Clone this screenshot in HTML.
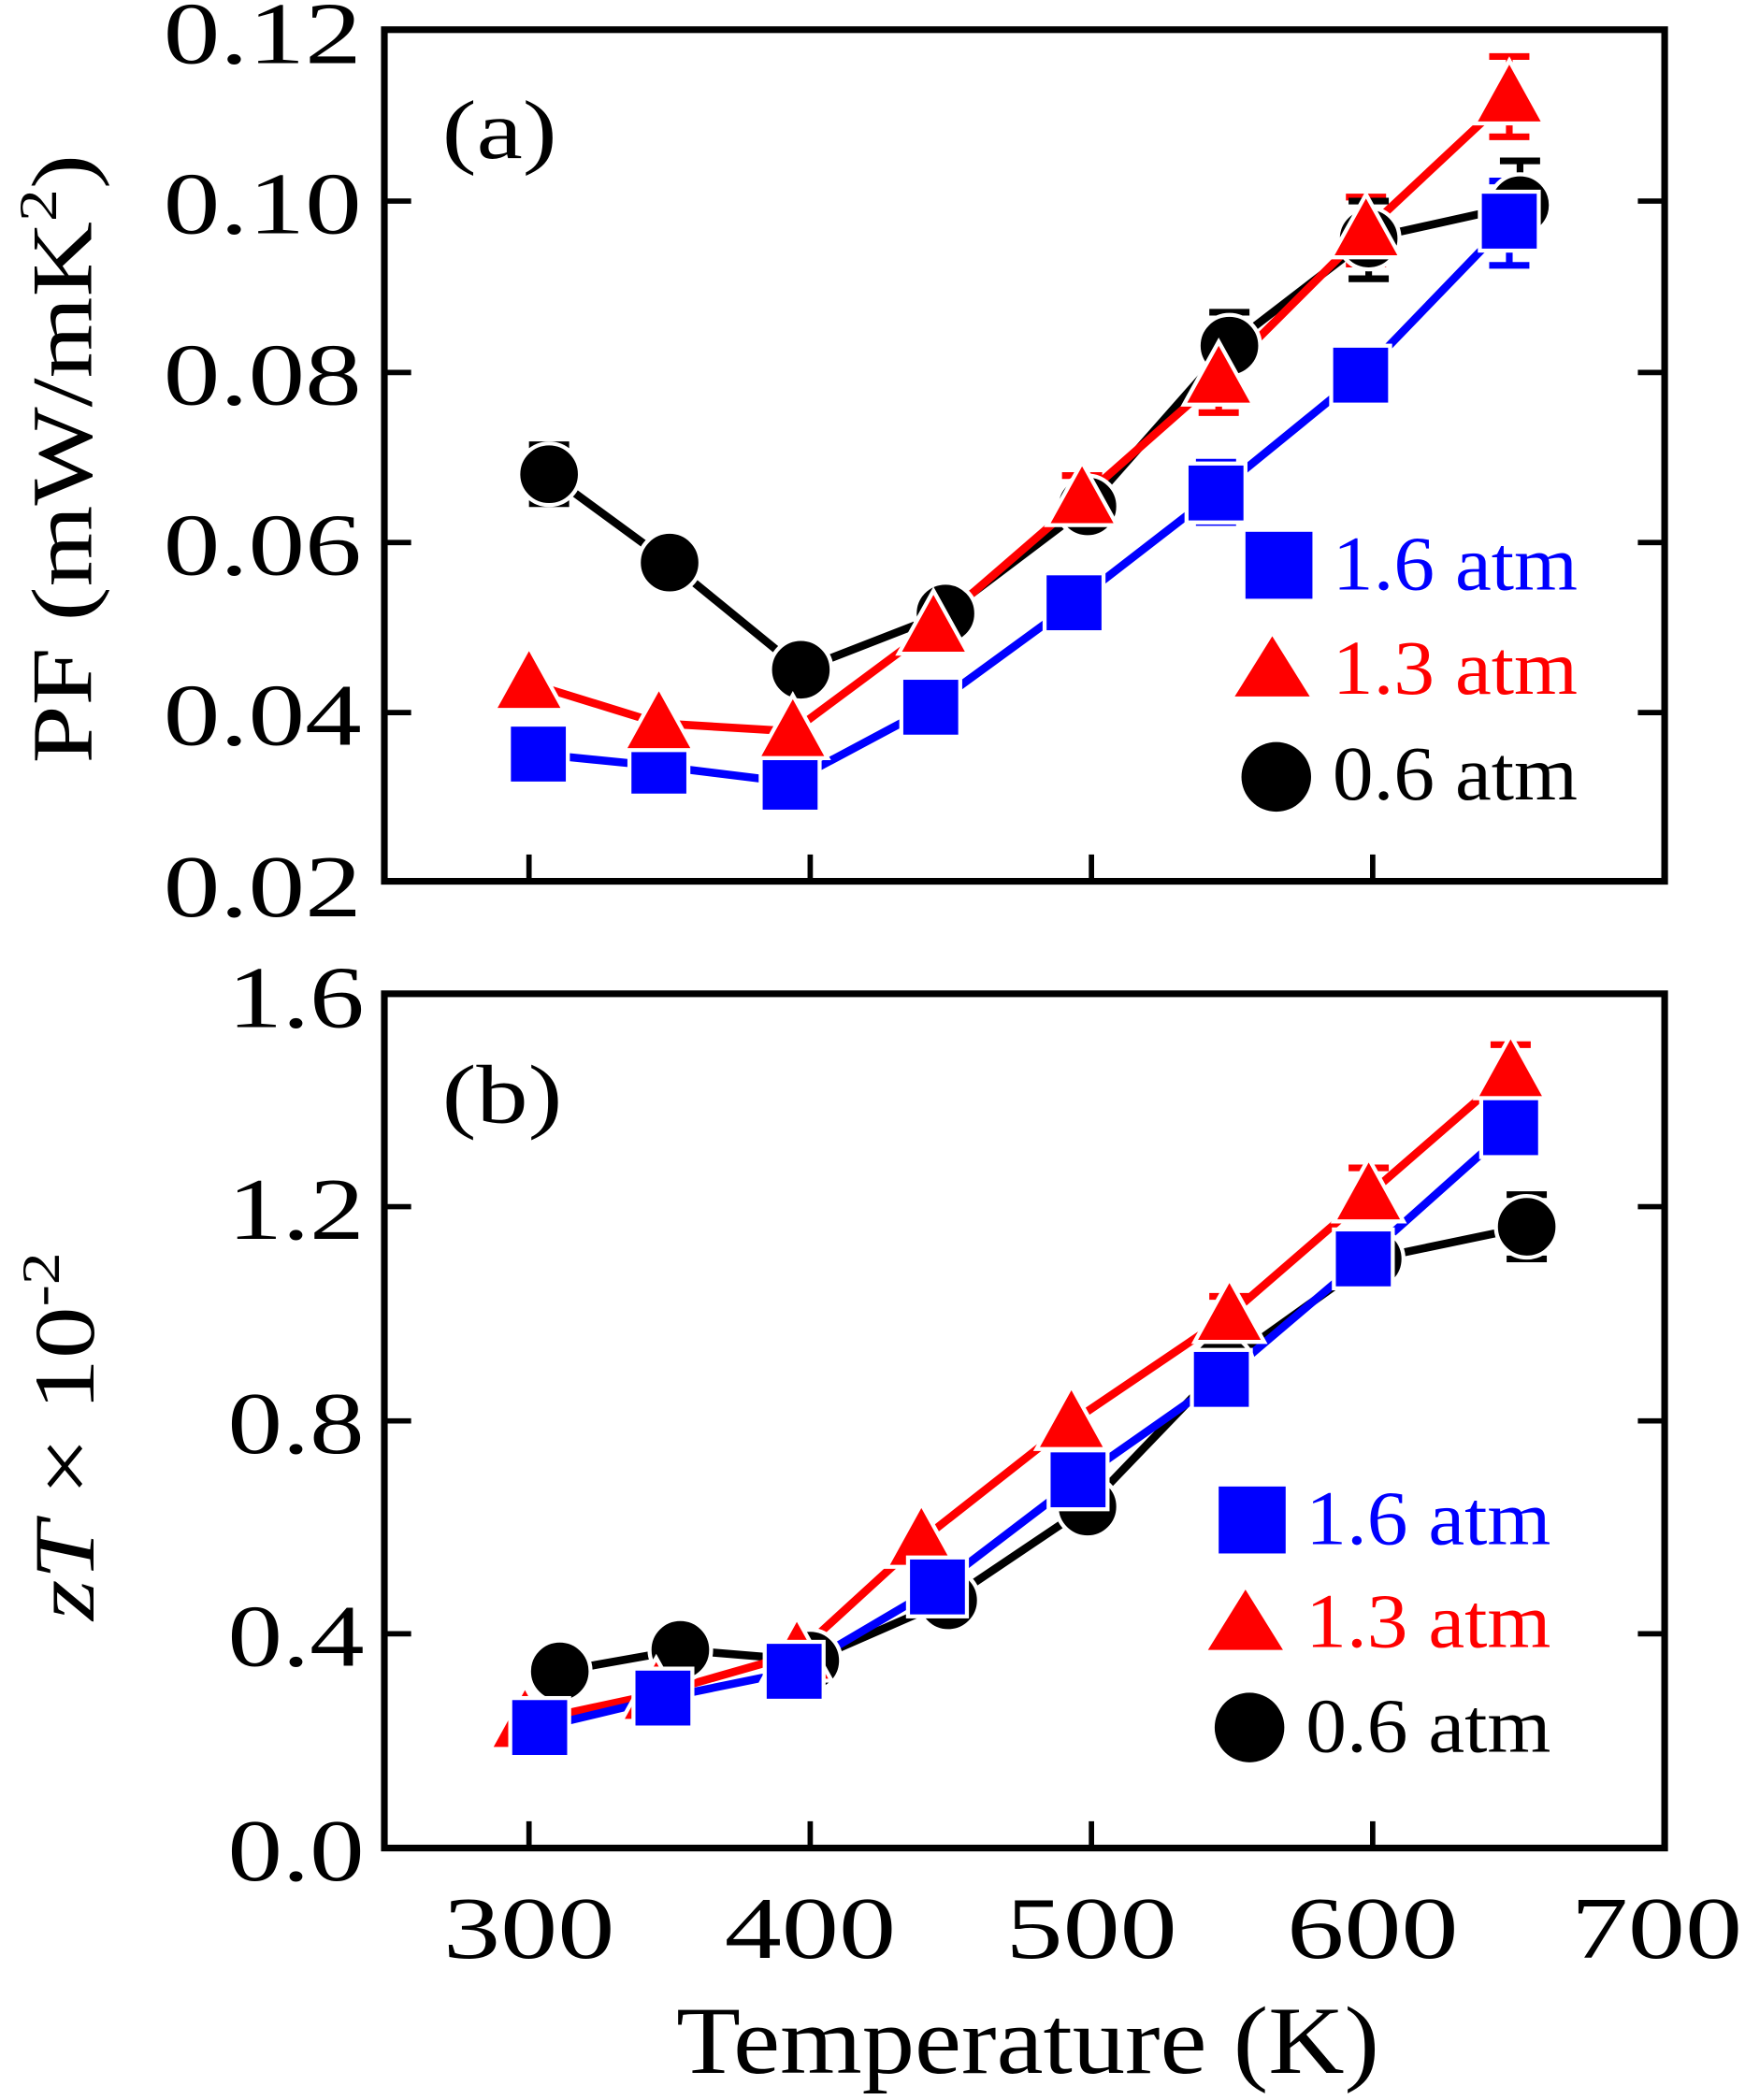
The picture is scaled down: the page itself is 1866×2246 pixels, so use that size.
<!DOCTYPE html>
<html><head><meta charset="utf-8"><style>html,body{margin:0;padding:0;background:#fff}svg{display:block}</style></head>
<body>
<svg width="1866" height="2246" viewBox="0 0 1303 1568" xmlns="http://www.w3.org/2000/svg" font-family="Liberation Serif, serif">
<rect width="1303" height="1568" fill="#fff"/>
<g stroke="#000" stroke-width="5" fill="none">
<rect x="287" y="22" width="956" height="636"/>
<rect x="287" y="742" width="956" height="638"/>
</g>
<g stroke="#000" stroke-width="4">
<line x1="287" y1="150" x2="307" y2="150"/><line x1="287" y1="278" x2="307" y2="278"/><line x1="287" y1="405" x2="307" y2="405"/><line x1="287" y1="532" x2="307" y2="532"/>
<line x1="1243" y1="150" x2="1223" y2="150"/><line x1="1243" y1="278" x2="1223" y2="278"/><line x1="1243" y1="405" x2="1223" y2="405"/><line x1="1243" y1="532" x2="1223" y2="532"/>
<line x1="395" y1="658" x2="395" y2="638"/><line x1="605" y1="658" x2="605" y2="638"/><line x1="815" y1="658" x2="815" y2="638"/><line x1="1025" y1="658" x2="1025" y2="638"/>
<line x1="287" y1="901" x2="307" y2="901"/><line x1="287" y1="1061" x2="307" y2="1061"/><line x1="287" y1="1220" x2="307" y2="1220"/>
<line x1="1243" y1="901" x2="1223" y2="901"/><line x1="1243" y1="1061" x2="1223" y2="1061"/><line x1="1243" y1="1220" x2="1223" y2="1220"/>
<line x1="395" y1="1380" x2="395" y2="1360"/><line x1="605" y1="1380" x2="605" y2="1360"/><line x1="815" y1="1380" x2="815" y2="1360"/><line x1="1025" y1="1380" x2="1025" y2="1360"/>
</g>
<g font-size="66" fill="#000" lengthAdjust="spacingAndGlyphs">
<text x="122" y="47" textLength="148" lengthAdjust="spacingAndGlyphs">0.12</text>
<text x="122" y="174" textLength="148" lengthAdjust="spacingAndGlyphs">0.10</text>
<text x="122" y="302" textLength="148" lengthAdjust="spacingAndGlyphs">0.08</text>
<text x="122" y="429" textLength="148" lengthAdjust="spacingAndGlyphs">0.06</text>
<text x="122" y="556" textLength="148" lengthAdjust="spacingAndGlyphs">0.04</text>
<text x="122" y="684" textLength="148" lengthAdjust="spacingAndGlyphs">0.02</text>
<text x="170" y="767" textLength="102" lengthAdjust="spacingAndGlyphs">1.6</text>
<text x="170" y="925" textLength="102" lengthAdjust="spacingAndGlyphs">1.2</text>
<text x="170" y="1085" textLength="102" lengthAdjust="spacingAndGlyphs">0.8</text>
<text x="170" y="1244" textLength="102" lengthAdjust="spacingAndGlyphs">0.4</text>
<text x="170" y="1404" textLength="102" lengthAdjust="spacingAndGlyphs">0.0</text>
</g>
<g font-size="66">
<text x="331" y="1462" textLength="128" lengthAdjust="spacingAndGlyphs">300</text>
<text x="541" y="1462" textLength="128" lengthAdjust="spacingAndGlyphs">400</text>
<text x="751" y="1462" textLength="128" lengthAdjust="spacingAndGlyphs">500</text>
<text x="961" y="1462" textLength="128" lengthAdjust="spacingAndGlyphs">600</text>
<text x="1173" y="1462" textLength="128" lengthAdjust="spacingAndGlyphs">700</text>
</g>
<text x="505" y="1548" font-size="72" textLength="525" lengthAdjust="spacingAndGlyphs">Temperature (K)</text>
<text transform="translate(68,570) rotate(-90)" font-size="64" textLength="455" lengthAdjust="spacingAndGlyphs">PF (mW/mK<tspan font-size="40" dy="-26">2</tspan><tspan dy="26">)</tspan></text>
<text transform="translate(70,1210) rotate(-90)" font-size="64" textLength="275" lengthAdjust="spacingAndGlyphs"><tspan font-style="italic">zT</tspan> × 10<tspan font-size="40" dy="-26">-2</tspan></text>
<text x="330" y="118" font-size="62" textLength="86" lengthAdjust="spacingAndGlyphs">(a)</text>
<text x="330" y="838" font-size="62" textLength="90" lengthAdjust="spacingAndGlyphs">(b)</text>

<g stroke-width="5" fill="none">
<path d="M1127 42V102M1112 42H1142M1112 102H1142 M1020 147V197M1005 147H1035M1005 197H1035 M910 260V308M895 260H925M895 308H925 M808 355V390M793 355H823" stroke="#f00"/>
<path d="M1135 120V185M1120 120H1150M1120 185H1150 M1022 150V208M1007 150H1037M1007 208H1037 M918 233V285M903 233H933 M410 332V376M395 332H425M395 376H425" stroke="#000"/>
<path d="M1127 135V198M1112 135H1142M1112 198H1142 M908 345V390M893 345H923M893 390H923" stroke="#00f"/>
<path d="M1128 780V820M1113 780H1143 M1022 872V910M1007 872H1037 M918 968V1000M903 968H933" stroke="#f00"/>
<path d="M1140 892V940M1125 892H1155M1125 940H1155" stroke="#000"/>
</g>

<g fill="none" stroke-width="6" stroke-linejoin="round">
<polyline stroke="#000" points="410,354 500,420 598,500 706,458 812,378 918,258 1022,178 1135,153"/>
<polyline stroke="#f00" points="395,510 492,540 592,546 697,468 808,372 910,282 1020,172 1127,72"/>
<polyline stroke="#00f" points="402,563 492,572 590,584 695,528 802,450 908,368 1016,280 1127,165"/>
<polyline stroke="#000" points="418,1248 508,1232 605,1240 708,1195 812,1125 913,1020 1025,940 1140,916"/>
<polyline stroke="#f00" points="392,1286 490,1265 595,1235 688,1150 800,1062 918,982 1022,892 1128,800"/>
<polyline stroke="#00f" points="403,1290 495,1268 593,1248 700,1185 805,1105 912,1030 1018,940 1128,842"/>
</g>
<defs>
<circle id="c" r="23" fill="#000" stroke="#fff" stroke-width="3"/>
<rect id="s" x="-22" y="-22" width="44" height="44" fill="#00f" stroke="#fff" stroke-width="3"/>
<polygon id="t" points="0,-27 26,20 -26,20" fill="#f00" stroke="#fff" stroke-width="3"/>
</defs>
<g>
<use href="#c" x="410" y="354"/><use href="#c" x="500" y="420"/><use href="#c" x="598" y="500"/><use href="#c" x="706" y="458"/><use href="#c" x="812" y="378"/><use href="#c" x="918" y="258"/><use href="#c" x="1022" y="178"/><use href="#c" x="1135" y="153"/>
<use href="#s" x="402" y="563"/><use href="#s" x="492" y="572"/><use href="#s" x="590" y="584"/><use href="#s" x="695" y="528"/><use href="#s" x="802" y="450"/><use href="#s" x="908" y="368"/><use href="#s" x="1016" y="280"/><use href="#s" x="1127" y="165"/>
<use href="#t" x="395" y="510"/><use href="#t" x="492" y="540"/><use href="#t" x="592" y="546"/><use href="#t" x="697" y="468"/><use href="#t" x="808" y="372"/><use href="#t" x="910" y="282"/><use href="#t" x="1020" y="172"/><use href="#t" x="1127" y="72"/>
<use href="#c" x="418" y="1248"/><use href="#c" x="508" y="1232"/><use href="#c" x="605" y="1240"/><use href="#c" x="708" y="1195"/><use href="#c" x="812" y="1125"/><use href="#c" x="913" y="1020"/><use href="#c" x="1025" y="940"/><use href="#c" x="1140" y="916"/>
<use href="#t" x="392" y="1286"/><use href="#t" x="490" y="1265"/><use href="#t" x="595" y="1235"/><use href="#t" x="688" y="1150"/><use href="#t" x="800" y="1062"/><use href="#t" x="918" y="982"/><use href="#t" x="1022" y="892"/><use href="#t" x="1128" y="800"/>
<use href="#s" x="403" y="1290"/><use href="#s" x="495" y="1268"/><use href="#s" x="593" y="1248"/><use href="#s" x="700" y="1185"/><use href="#s" x="805" y="1105"/><use href="#s" x="912" y="1030"/><use href="#s" x="1018" y="940"/><use href="#s" x="1128" y="842"/>
</g>
<rect x="930" y="397" width="50" height="50" fill="#00f"/>
<polygon points="950,475 978,520 922,520" fill="#f00"/>
<circle cx="953" cy="580" r="26" fill="#000"/>
<g font-size="58">
<text x="995" y="440" fill="#00f" textLength="183" lengthAdjust="spacingAndGlyphs">1.6 atm</text>
<text x="995" y="518" fill="#f00" textLength="183" lengthAdjust="spacingAndGlyphs">1.3 atm</text>
<text x="995" y="597" fill="#000" textLength="183" lengthAdjust="spacingAndGlyphs">0.6 atm</text>
</g>
<rect x="910" y="1110" width="50" height="50" fill="#00f"/>
<polygon points="930,1187 958,1232 902,1232" fill="#f00"/>
<circle cx="933" cy="1290" r="26" fill="#000"/>
<g font-size="58">
<text x="975" y="1153" fill="#00f" textLength="183" lengthAdjust="spacingAndGlyphs">1.6 atm</text>
<text x="975" y="1230" fill="#f00" textLength="183" lengthAdjust="spacingAndGlyphs">1.3 atm</text>
<text x="975" y="1308" fill="#000" textLength="183" lengthAdjust="spacingAndGlyphs">0.6 atm</text>
</g>
</svg>
</body></html>
